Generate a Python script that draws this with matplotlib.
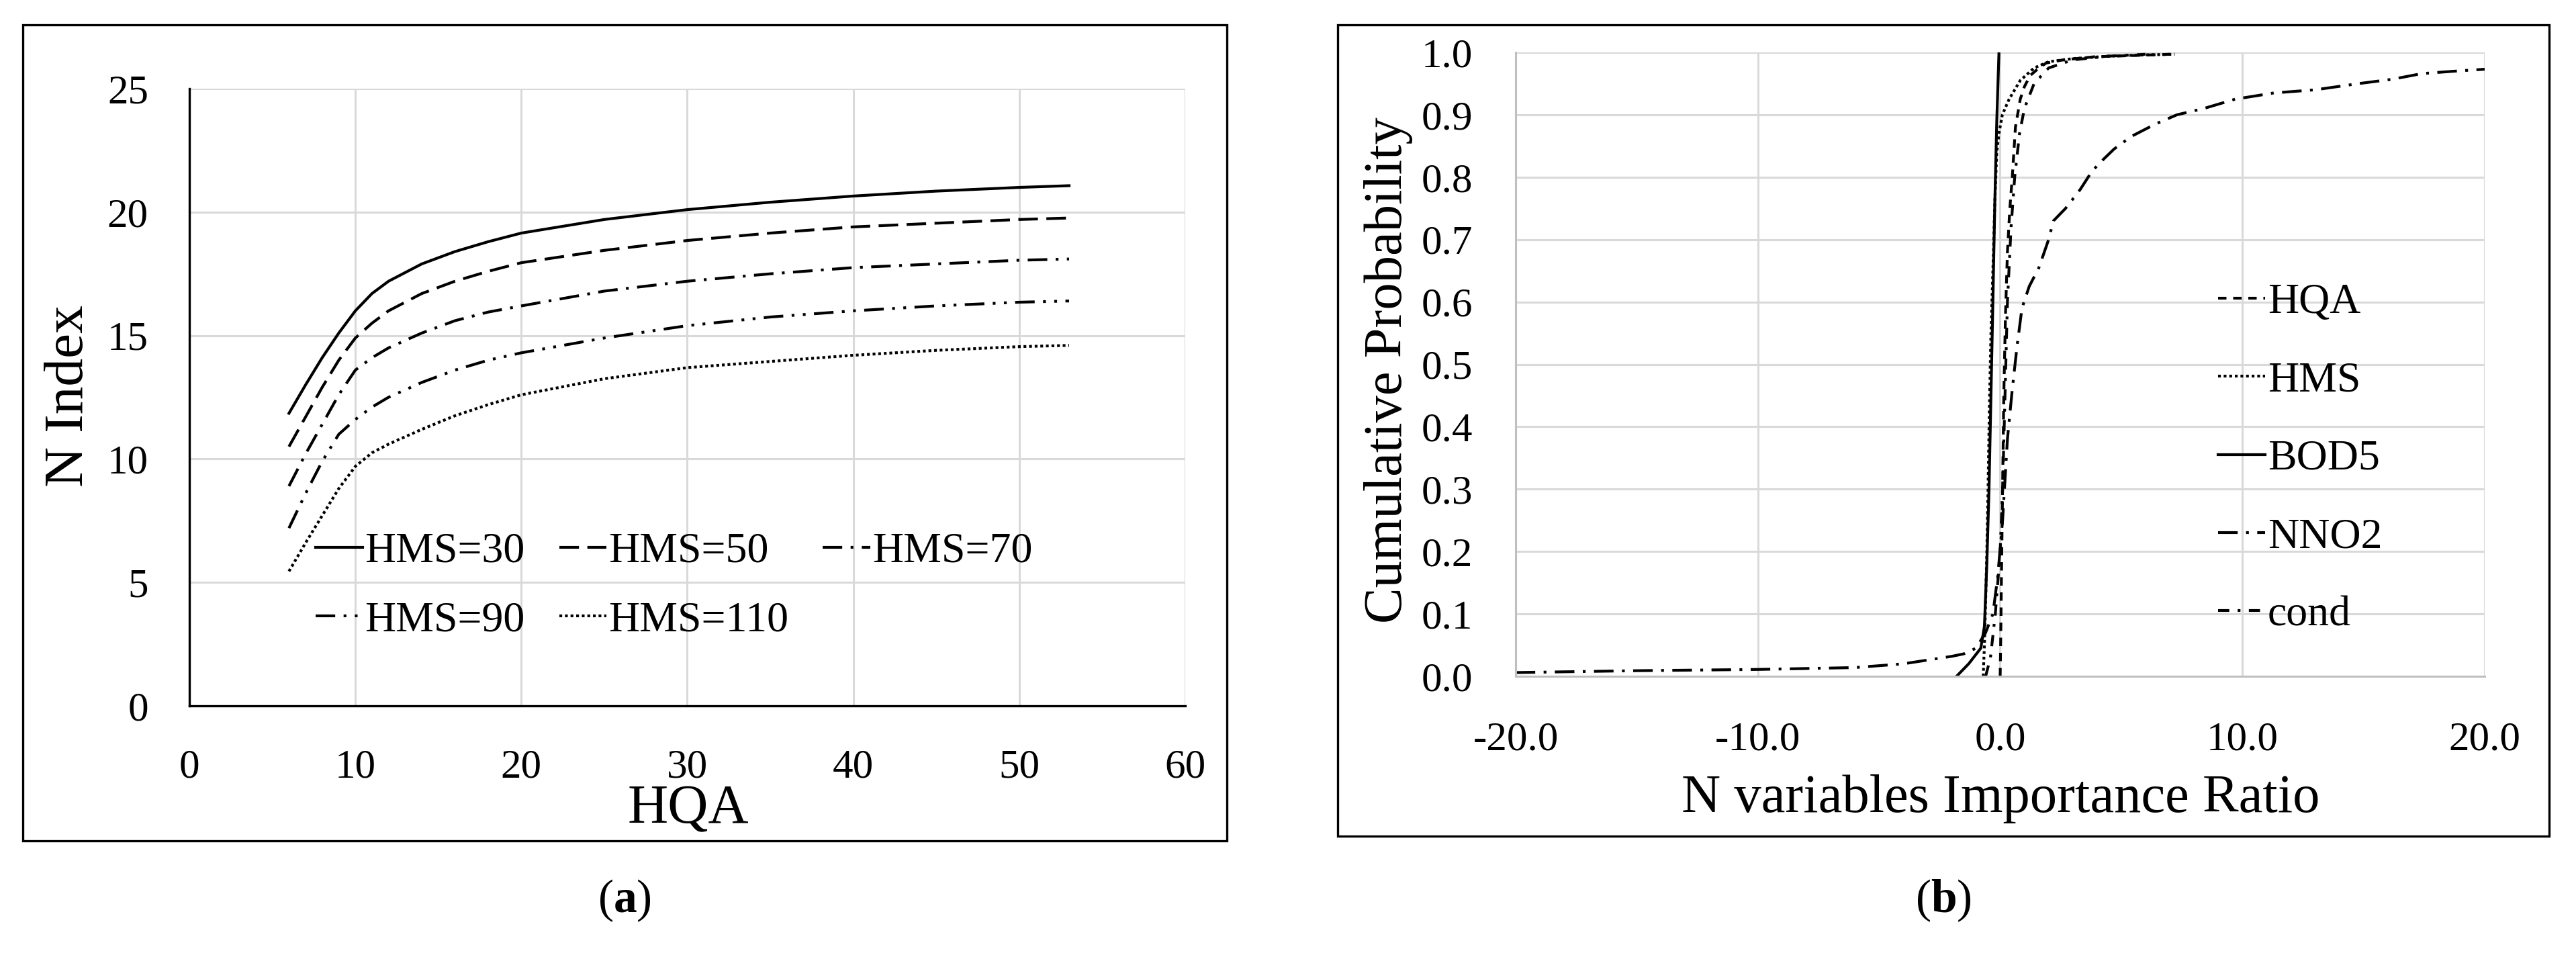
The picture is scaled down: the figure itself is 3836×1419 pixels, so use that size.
import numpy as np
import matplotlib
matplotlib.use("Agg")
import matplotlib.pyplot as plt
from matplotlib.patches import Rectangle
from matplotlib.ticker import FormatStrFormatter

plt.rcParams['font.family'] = ['Liberation Serif', 'DejaVu Serif']
plt.rcParams['mathtext.fontset'] = 'custom'
plt.rcParams['mathtext.rm'] = 'Liberation Serif'
plt.rcParams['mathtext.bf'] = 'Liberation Serif:bold'

# ---- panel (a): N index vs HQA for several HMS values
hqa = [6, 7, 8, 9, 10, 11, 12, 14, 16, 18, 20, 25, 30, 35, 40, 45, 50, 53]
hms30 = [11.85, 13.0, 14.1, 15.1, 16.0, 16.7, 17.2, 17.9, 18.4, 18.8, 19.15, 19.7, 20.1, 20.4, 20.65, 20.85, 21.0, 21.07]
hms50 = [10.5, 11.7, 12.9, 14.0, 14.9, 15.5, 16.0, 16.7, 17.2, 17.6, 17.95, 18.45, 18.85, 19.15, 19.4, 19.55, 19.7, 19.76]
hms70 = [8.9, 10.2, 11.4, 12.6, 13.6, 14.1, 14.5, 15.1, 15.6, 15.95, 16.2, 16.8, 17.2, 17.5, 17.75, 17.9, 18.05, 18.1]
hms90 = [7.2, 8.6, 9.9, 11.0, 11.6, 12.1, 12.5, 13.1, 13.6, 14.0, 14.3, 14.9, 15.4, 15.75, 16.0, 16.2, 16.35, 16.4]
hms110 = [5.45, 6.6, 7.7, 8.8, 9.7, 10.25, 10.6, 11.2, 11.75, 12.2, 12.6, 13.25, 13.7, 13.95, 14.2, 14.4, 14.55, 14.6]
labels_a = ['HMS=30', 'HMS=50', 'HMS=70', 'HMS=90', 'HMS=110']

# ---- panel (b): cumulative probability of importance ratios
hqa_x = [0.0, 0.02, 0.05, 0.1, 0.15, 0.22, 0.3, 0.4, 0.5, 0.63, 0.83, 1.0, 1.24, 1.6, 1.9, 2.6, 3.9, 5.5, 7.0]
hqa_p = [0.0, 0.05, 0.15, 0.3, 0.45, 0.58, 0.68, 0.75, 0.80, 0.88, 0.925, 0.945, 0.963, 0.975, 0.983, 0.988, 0.993, 0.995, 0.997]
hms_x = [-0.7, -0.65, -0.6, -0.55, -0.5, -0.45, -0.38, -0.3, -0.22, -0.14, -0.05, 0.09, 0.37, 0.83, 1.4, 2.0, 3.0, 4.5, 6.0, 7.2]
hms_p = [0.0, 0.05, 0.12, 0.2, 0.3, 0.42, 0.55, 0.65, 0.76, 0.84, 0.87, 0.90, 0.925, 0.955, 0.975, 0.985, 0.99, 0.994, 0.996, 0.997]
bod5_x = [-1.8, -1.3, -0.8, -0.65, -0.55, -0.46, -0.38, -0.3, -0.22, -0.14, -0.05]
bod5_p = [0.0, 0.02, 0.045, 0.08, 0.18, 0.3, 0.45, 0.6, 0.76, 0.89, 1.0]
nno2_x = [-20, -15, -10, -6, -4, -3, -2, -1.5, -1, -0.6, -0.3, -0.1, 0.1, 0.3, 0.5, 0.7, 0.9, 1.2, 1.6, 2.0,
          2.2, 2.7, 3.3, 3.8, 4.3, 4.7, 5.4, 6.4, 7.3, 8.4, 9.7, 11.3, 13.0, 14.8, 16.2, 17.4, 18.8, 20.0]
nno2_p = [0.006, 0.009, 0.011, 0.014, 0.02, 0.026, 0.032, 0.036, 0.045, 0.07, 0.10, 0.16, 0.25, 0.38, 0.46, 0.53, 0.59, 0.625, 0.655, 0.70,
          0.73, 0.75, 0.78, 0.81, 0.83, 0.845, 0.865, 0.885, 0.90, 0.91, 0.925, 0.935, 0.94, 0.95, 0.957, 0.966, 0.97, 0.973]
cond_x = [-0.6, -0.4, -0.2, 0.0, 0.1, 0.2, 0.3, 0.45, 0.6, 0.8, 1.0, 1.4, 2.0, 3.0, 4.5, 6.0]
cond_p = [0.0, 0.03, 0.1, 0.2, 0.3, 0.45, 0.6, 0.72, 0.8, 0.87, 0.91, 0.95, 0.975, 0.988, 0.994, 0.997]
labels_b = ['HQA', 'HMS', 'BOD5', 'NNO2', 'cond']

W, H = 3837, 1419
fig = plt.figure(figsize=(W / 200, H / 200), dpi=200)

grid_c = '#d9d9d9'
lw = 1.5

# frames around each chart
fig.add_artist(Rectangle((34 / W, 1 - 1252 / H), (1827 - 34) / W, (1252 - 37) / H,
                         transform=fig.transFigure, fill=False, ec='black', lw=1.2))
fig.add_artist(Rectangle((1992 / W, 1 - 1245 / H), (3796 - 1992) / W, (1245 - 37) / H,
                         transform=fig.transFigure, fill=False, ec='black', lw=1.2))

# ---------------- (a)
ax1 = fig.add_axes([282 / W, 1 - 1051 / H, (1765 - 282) / W, (1051 - 132) / H])
styles_a = ['-', (0, (7, 3)), (0, (7, 3, 1, 3)), (0, (7, 3, 1, 3, 1, 3)), (0, (1, 1))]
series_a = [hms30, hms50, hms70, hms90, hms110]
handles = []
for ys, ls, lab in zip(series_a, styles_a, labels_a):
    h, = ax1.plot(hqa, ys, color='black', lw=lw, linestyle=ls, label=lab)
    handles.append(h)
ax1.set_xlim(0, 60)
ax1.set_ylim(0, 25)
ax1.set_xticks(range(0, 61, 10))
ax1.set_yticks(range(0, 26, 5))
ax1.grid(True, color=grid_c, lw=1.1)
ax1.set_axisbelow(True)
for s in ['top', 'right']:
    ax1.spines[s].set_visible(False)
for s in ['left', 'bottom']:
    ax1.spines[s].set_color('black')
    ax1.spines[s].set_linewidth(1.2)
ax1.tick_params(length=0, labelsize=22)
ax1.tick_params(axis='x', pad=23)
ax1.tick_params(axis='y', pad=22)
# excel fills the legend row by row
order = [0, 3, 1, 4, 2]
ax1.legend([handles[i] for i in order], [labels_a[i] for i in order], ncol=3,
           loc='center left', bbox_to_anchor=(7.6, 4.85), bbox_transform=ax1.transData,
           frameon=False, fontsize=23, handlelength=1.1, handletextpad=0.05,
           columnspacing=0.8, labelspacing=0.68, borderpad=0, borderaxespad=0)
fig.text(1025 / W, 1 - 1206 / H, 'HQA', fontsize=30, ha='center', va='center')
fig.text(103 / W, 1 - 590 / H, 'N Index', fontsize=30, ha='center', va='center', rotation=90)

# ---------------- (b)
ax2 = fig.add_axes([2257 / W, 1 - 1007 / H, (3700 - 2257) / W, (1007 - 78) / H])
series_b = [(hqa_x, hqa_p), (hms_x, hms_p), (bod5_x, bod5_p), (nno2_x, nno2_p), (cond_x, cond_p)]
styles_b = [(0, (3, 2.4)), (0, (1, 1)), '-', (0, (7, 3, 1, 3)), (0, (4, 3, 1, 3))]
for (xs, ps), ls, lab in zip(series_b, styles_b, labels_b):
    ax2.plot(xs, ps, color='black', lw=lw, linestyle=ls, label=lab)
ax2.set_xlim(-20, 20)
ax2.set_ylim(0, 1)
ax2.set_xticks(np.arange(-20, 21, 10))
ax2.set_yticks(np.arange(0, 1.01, 0.1))
ax2.xaxis.set_major_formatter(FormatStrFormatter('%.1f'))
ax2.yaxis.set_major_formatter(FormatStrFormatter('%.1f'))
ax2.grid(True, color=grid_c, lw=1.1)
ax2.set_axisbelow(True)
for s in ['top', 'right']:
    ax2.spines[s].set_visible(False)
for s in ['left', 'bottom']:
    ax2.spines[s].set_color('#bfbfbf')
    ax2.spines[s].set_linewidth(1.1)
ax2.tick_params(length=0, labelsize=22)
ax2.tick_params(axis='x', pad=24)
ax2.tick_params(axis='y', pad=23)
ax2.legend(loc='upper left', bbox_to_anchor=(9.0, 0.63), bbox_transform=ax2.transData,
           frameon=False, fontsize=23, handlelength=1.1, handletextpad=0.05,
           labelspacing=0.9, borderpad=0, borderaxespad=0)
fig.text(2979 / W, 1 - 1190 / H, 'N variables Importance Ratio', fontsize=29, ha='center', va='center')
fig.text(2067 / W, 1 - 551 / H, 'Cumulative Probability', fontsize=29, ha='center', va='center', rotation=90)

# captions
fig.text(930 / W, 1 - 1341 / H, r'($\mathbf{a}$)', fontsize=25, ha='center', va='center')
fig.text(2894 / W, 1 - 1341 / H, r'($\mathbf{b}$)', fontsize=25, ha='center', va='center')

fig.savefig('out.png', dpi=200, facecolor='white')
